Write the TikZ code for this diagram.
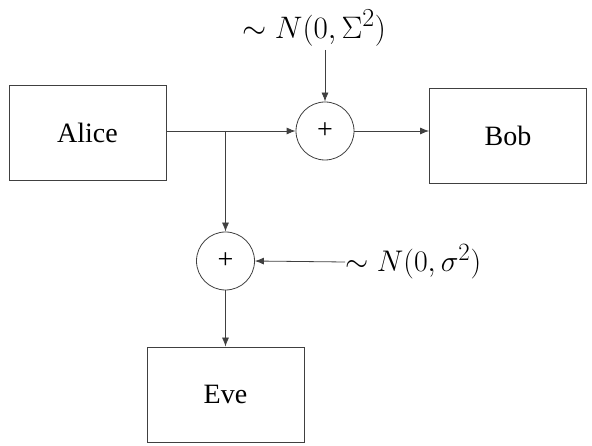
\documentclass[tikz,border=0pt]{standalone}
\usepackage{fontspec}
\newfontfamily\timesfont{Liberation Serif}
\usetikzlibrary{arrows.meta}
\begin{document}
\begin{tikzpicture}[x=1pt,y=-1pt,
  line width=0.8pt,
  boxnode/.style={draw=black!75,minimum width=157pt,minimum height=95pt,inner sep=0pt,font=\timesfont\fontsize{28}{32}\selectfont},
  sumnode/.style={draw=black!75,circle,minimum size=58pt,inner sep=0pt,font=\timesfont\fontsize{28}{32}\selectfont},
  lbl/.style={inner sep=0pt,font=\fontsize{24.88}{30}\selectfont},
  arr/.style={draw=black!75,-{Latex[length=9pt,width=7pt]}}]
\useasboundingbox (0,0) rectangle (592,446);
\node[boxnode] (alice) at (87.5,132.5) {Alice};
\node[boxnode] (bob) at (508,135.5) {Bob};
\node[boxnode] (eve) at (225.5,394.5) {Eve};
\node[sumnode] (sum1) at (325,131) {+};
\node[sumnode] (sum2) at (225.5,261) {+};
\node[lbl] (n1) at (314,28) {\scalebox{1.25}{$\sim N(0,\Sigma^2)$}};
\node[lbl,anchor=west] (n2) at (345,262) {\scalebox{1.2}{$\sim N(0,\sigma^2)$}};
\coordinate (n1foot) at (325,50);
\coordinate (br) at (225.5,131);
\draw[arr] (alice.east |- sum1.west) -- (sum1.west);
\draw[arr] (br) -- (sum2.north);
\draw[arr] (n1foot) -- (sum1.north);
\draw[arr] (sum1.east) -- (bob.west |- sum1.east);
\draw[arr] (n2.west) -- (sum2.east);
\draw[arr] (sum2.south) -- (eve.north);
\end{tikzpicture}
\end{document}
